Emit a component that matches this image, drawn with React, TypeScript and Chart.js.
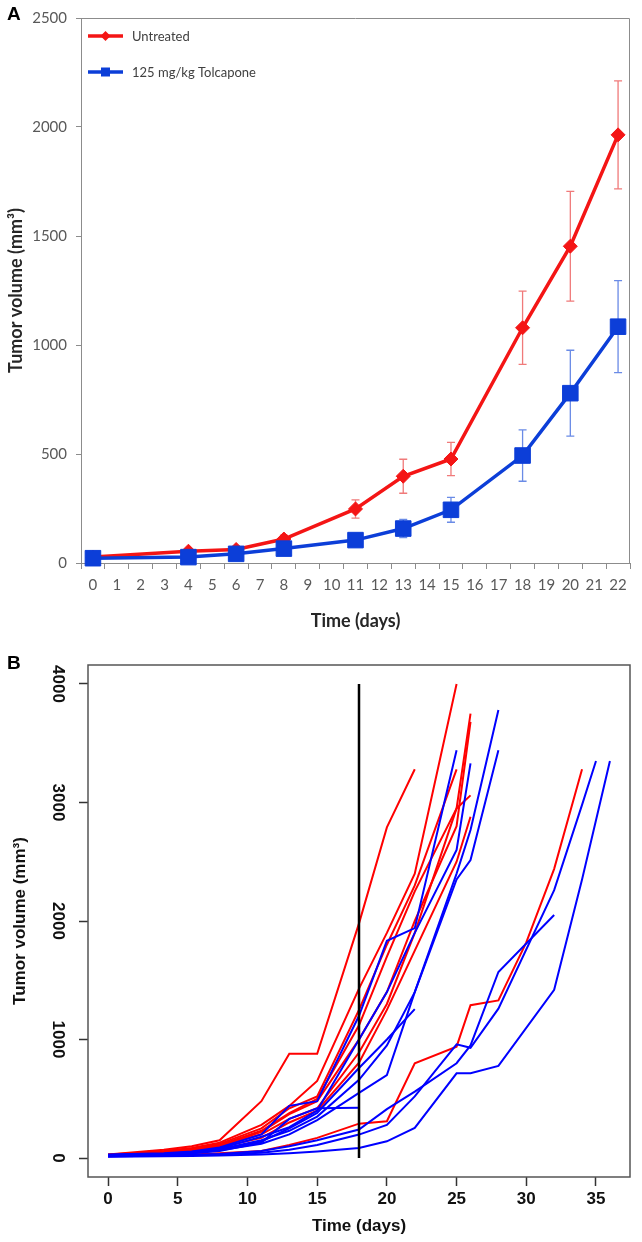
import React, { useEffect, useRef } from 'react';
import { Chart, registerables } from 'chart.js';

Chart.register(...registerables);

// ---------------- Panel A data ----------------
const dayLabelsA = ['0', '1', '2', '3', '4', '5', '6', '7', '8', '9', '10', '11', '12', '13', '14', '15', '16', '17', '18', '19', '20', '21', '22'];
const measuredDaysA = [0, 4, 6, 8, 11, 13, 15, 18, 20, 22];
const untreatedMean = [27, 54, 62, 110, 248, 398, 477, 1079, 1453, 1964];
const untreatedErr = [6, 12, 14, 18, 42, 78, 76, 168, 252, 248];
const tolcaponeMean = [22, 27, 42, 66, 105, 158, 244, 493, 779, 1084];
const tolcaponeErr = [5, 8, 10, 12, 18, 42, 57, 118, 197, 211];
const yTicksA = [0, 500, 1000, 1500, 2000, 2500];
const seriesNamesA = ['Untreated', '125 mg/kg Tolcapone'];

// ---------------- Panel B data ----------------
const xTicksB = [0, 5, 10, 15, 20, 25, 30, 35];
const yTicksB = [0, 1000, 2000, 3000, 4000];
const treatmentStartDay = 18;

const daysTo18 = [0, 4, 6, 8, 11, 13, 15, 18];
const daysTo22 = [0, 4, 6, 8, 11, 13, 15, 18, 20, 22];
const daysTo25 = [0, 4, 6, 8, 11, 13, 15, 18, 20, 22, 25];
const daysTo26 = [0, 4, 6, 8, 11, 13, 15, 18, 20, 22, 25, 26];
const daysTo28 = [0, 4, 6, 8, 11, 13, 15, 18, 20, 22, 25, 26, 28];
const daysTo32 = [0, 4, 6, 8, 11, 13, 15, 18, 20, 22, 25, 26, 28, 32];
const daysTo34 = [0, 4, 6, 8, 11, 13, 15, 18, 20, 22, 25, 26, 28, 30, 32, 34];
const daysTo35 = [0, 4, 6, 8, 11, 13, 15, 18, 20, 22, 25, 26, 28, 32, 34, 35];
const daysTo36 = [0, 4, 6, 8, 11, 13, 15, 18, 20, 22, 25, 26, 28, 32, 34, 36];

// untreated mice (red)
const untreated1 = [30, 70, 100, 150, 480, 880, 880, 1980, 2790, 3280];
const untreated2 = [25, 60, 85, 130, 280, 440, 650, 1430, 1900, 2400, 4000];
const untreated3 = [30, 55, 80, 120, 250, 420, 520, 1250, 1800, 2300, 3280];
const untreated4 = [20, 50, 75, 110, 230, 380, 500, 1120, 1700, 2250, 2950, 3750];
const untreated5 = [25, 50, 70, 100, 220, 370, 480, 1000, 1400, 2000, 2800, 3680];
const untreated6 = [20, 45, 65, 100, 200, 330, 420, 890, 1300, 1900, 2950, 3060];
const untreated7 = [20, 40, 60, 90, 170, 300, 400, 805, 1250, 1750, 2500, 2880];
const untreated8 = [15, 25, 30, 40, 60, 110, 170, 290, 310, 800, 940, 1290, 1330, 1820, 2440, 3280];

// tolcapone mice (blue)
const tolcapone1 = [30, 40, 55, 90, 200, 440, 480, 1200, 1833, 1940, 3441];
const tolcapone2 = [25, 35, 50, 80, 180, 260, 400, 1000, 1400, 1900, 2600, 3330];
const tolcapone3 = [25, 30, 45, 75, 150, 230, 350, 660, 950, 1400, 2400, 2768, 3780];
const tolcapone4 = [20, 30, 40, 65, 120, 200, 320, 550, 700, 1400, 2350, 2514, 3441];
const tolcapone5 = [25, 35, 45, 70, 140, 250, 380, 760, 1000, 1257];
const tolcapone6 = [20, 30, 40, 60, 130, 330, 420, 424];
const tolcapone7 = [15, 20, 25, 35, 60, 100, 150, 240, 413, 560, 800, 950, 1570, 2050];
const tolcapone8 = [15, 20, 25, 30, 45, 70, 110, 198, 280, 520, 960, 930, 1260, 2260, 2980, 3350];
const tolcapone9 = [10, 15, 18, 22, 30, 40, 55, 85, 141, 254, 715, 715, 777, 1420, 2350, 3350];

const untreatedMice: [number[], number[]][] = [
  [daysTo22, untreated1], [daysTo25, untreated2], [daysTo25, untreated3], [daysTo26, untreated4],
  [daysTo26, untreated5], [daysTo26, untreated6], [daysTo26, untreated7], [daysTo34, untreated8],
];
const tolcaponeMice: [number[], number[]][] = [
  [daysTo25, tolcapone1], [daysTo26, tolcapone2], [daysTo28, tolcapone3], [daysTo28, tolcapone4],
  [daysTo22, tolcapone5], [daysTo18, tolcapone6], [daysTo32, tolcapone7], [daysTo35, tolcapone8],
  [daysTo36, tolcapone9],
];

// ---------------- styles ----------------
const RED_A = '#f41515';
const BLUE_A = '#0c3ed8';
const RED_ERR = '#f07a7a';
const BLUE_ERR = '#6a8be6';
const GRAY_A = '#8c8c8c';
const TEXT_A = '#595959';
const FONT_A = 'Lato, "Open Sans", sans-serif';
const FONT_B = '"Liberation Sans", Arial, sans-serif';

const plain = (v: any) => String(v);

const frameA = {
  id: 'frameA',
  afterDraw(chart: any) {
    const { ctx, chartArea: c } = chart;
    ctx.save();
    ctx.strokeStyle = GRAY_A;
    ctx.lineWidth = 1;
    ctx.beginPath();
    ctx.moveTo(Math.round(c.left) + 0.5, Math.round(c.top) + 0.5);
    ctx.lineTo(Math.round(c.right) - 0.5, Math.round(c.top) + 0.5);
    ctx.lineTo(Math.round(c.right) - 0.5, Math.round(c.bottom) + 0.5);
    ctx.stroke();
    ctx.restore();
  },
};

const errorBars = {
  id: 'errorBars',
  beforeDatasetsDraw(chart: any) {
    const { ctx } = chart;
    const y = chart.scales.y;
    chart.data.datasets.forEach((ds: any, di: number) => {
      if (!ds.errors) return;
      const meta = chart.getDatasetMeta(di);
      meta.data.forEach((pt: any, i: number) => {
        const v = ds.data[i].y;
        const e = ds.errors[i];
        const top = y.getPixelForValue(v + e);
        const bot = y.getPixelForValue(v - e);
        ctx.save();
        ctx.strokeStyle = ds.errorColor;
        ctx.lineWidth = 1.3;
        ctx.beginPath();
        ctx.moveTo(pt.x, top);
        ctx.lineTo(pt.x, bot);
        ctx.moveTo(pt.x - 4, top);
        ctx.lineTo(pt.x + 4, top);
        ctx.moveTo(pt.x - 4, bot);
        ctx.lineTo(pt.x + 4, bot);
        ctx.stroke();
        ctx.restore();
      });
    });
  },
};

const legendA = {
  id: 'legendA',
  afterDatasetsDraw(chart: any) {
    const { ctx, chartArea: c } = chart;
    chart.data.datasets.forEach((ds: any, i: number) => {
      const y = c.top + 18 + i * 36;
      const x0 = c.left + 7;
      const x1 = c.left + 42;
      const xm = (x0 + x1) / 2;
      ctx.save();
      ctx.strokeStyle = ds.borderColor;
      ctx.lineWidth = 3.5;
      ctx.beginPath();
      ctx.moveTo(x0, y);
      ctx.lineTo(x1, y);
      ctx.stroke();
      ctx.fillStyle = ds.borderColor;
      ctx.beginPath();
      if (ds.pointStyle === 'rectRot') {
        ctx.moveTo(xm - 5, y);
        ctx.lineTo(xm, y - 5);
        ctx.lineTo(xm + 5, y);
        ctx.lineTo(xm, y + 5);
        ctx.closePath();
      } else {
        ctx.rect(xm - 4.5, y - 4.5, 9, 9);
      }
      ctx.fill();
      ctx.fillStyle = '#404040';
      ctx.font = `13px ${FONT_A}`;
      ctx.textBaseline = 'middle';
      ctx.textAlign = 'left';
      ctx.fillText(ds.label, c.left + 51, y + 1);
      ctx.restore();
    });
  },
};

const frameB = {
  id: 'frameB',
  afterDraw(chart: any) {
    const { ctx, chartArea: c } = chart;
    ctx.save();
    ctx.strokeStyle = '#555';
    ctx.lineWidth = 1.5;
    ctx.strokeRect(c.left, c.top, c.right - c.left, c.bottom - c.top);
    ctx.restore();
  },
};

function configA(): any {
  const mk = (means: number[]) => measuredDaysA.map((d, i) => ({ x: String(d), y: means[i] }));
  return {
    type: 'line',
    data: {
      labels: dayLabelsA,
      datasets: [
        {
          label: seriesNamesA[0],
          data: mk(untreatedMean),
          errors: untreatedErr,
          errorColor: RED_ERR,
          borderColor: RED_A,
          backgroundColor: RED_A,
          borderWidth: 3.5,
          pointStyle: 'rectRot',
          pointRadius: 7,
          pointBorderWidth: 1,
          spanGaps: true,
          tension: 0,
          clip: false,
          order: 1,
        },
        {
          label: seriesNamesA[1],
          data: mk(tolcaponeMean),
          errors: tolcaponeErr,
          errorColor: BLUE_ERR,
          borderColor: BLUE_A,
          backgroundColor: BLUE_A,
          borderWidth: 3.5,
          pointStyle: 'rect',
          pointRadius: 11,
          pointBorderWidth: 1,
          spanGaps: true,
          tension: 0,
          clip: false,
          order: 0,
        },
      ],
    },
    options: {
      animation: false,
      responsive: false,
      maintainAspectRatio: false,
      layout: { padding: { top: 8, right: 3, left: 0, bottom: 0 } },
      plugins: { legend: { display: false }, tooltip: { enabled: false } },
      scales: {
        x: {
          type: 'category',
          offset: true,
          grid: { offset: true, drawOnChartArea: false, drawTicks: true, tickLength: 6, color: GRAY_A },
          border: { display: true, color: GRAY_A },
          ticks: { color: TEXT_A, font: { family: FONT_A, size: 15 }, padding: 7, autoSkip: false, maxRotation: 0 },
          title: {
            display: true,
            text: 'Time (days)',
            color: '#262626',
            font: { family: FONT_A, size: 18, weight: 'bold' },
            padding: { top: 0, bottom: 8 },
          },
          afterFit: (s: any) => { s.height = 77; },
        },
        y: {
          type: 'linear',
          min: 0,
          max: 2500,
          afterBuildTicks: (s: any) => { s.ticks = yTicksA.map((v) => ({ value: v })); },
          grid: { drawOnChartArea: false, drawTicks: true, tickLength: 5, color: GRAY_A },
          border: { display: true, color: GRAY_A },
          ticks: { color: TEXT_A, font: { family: FONT_A, size: 15 }, padding: 9, callback: plain },
          title: {
            display: true,
            text: 'Tumor volume (mm³)',
            color: '#262626',
            font: { family: FONT_A, size: 18, weight: 'bold' },
            padding: { top: 5, bottom: 0 },
          },
          afterFit: (s: any) => { s.width = 81; },
        },
      },
    },
    plugins: [errorBars, frameA, legendA],
  };
}

function configB(): any {
  const datasets: any[] = [];
  datasets.push({
    label: 'Treatment start',
    data: [{ x: treatmentStartDay, y: 0 }, { x: treatmentStartDay, y: 4000 }],
    borderColor: '#000',
    borderWidth: 2.5,
    pointRadius: 0,
    order: 0,
  });
  tolcaponeMice.forEach(([days, vols]) => {
    datasets.push({
      label: 'Tolcapone',
      data: days.map((d, i) => ({ x: d, y: vols[i] })),
      borderColor: '#0000ff',
      borderWidth: 2,
      pointRadius: 0,
      tension: 0,
      order: 1,
    });
  });
  untreatedMice.forEach(([days, vols]) => {
    datasets.push({
      label: 'Untreated',
      data: days.map((d, i) => ({ x: d, y: vols[i] })),
      borderColor: '#ff0000',
      borderWidth: 2,
      pointRadius: 0,
      tension: 0,
      order: 2,
    });
  });
  const tickFont = { family: FONT_B, size: 17, weight: 'bold' };
  return {
    type: 'line',
    data: { datasets },
    options: {
      animation: false,
      responsive: false,
      maintainAspectRatio: false,
      layout: { padding: { top: 25, right: 12, left: 0, bottom: 0 } },
      plugins: { legend: { display: false }, tooltip: { enabled: false } },
      scales: {
        x: {
          type: 'linear',
          min: -1.44,
          max: 37.44,
          afterBuildTicks: (s: any) => { s.ticks = xTicksB.map((v) => ({ value: v })); },
          grid: { drawOnChartArea: false, drawTicks: true, tickLength: 9, tickWidth: 1.5, tickColor: '#333' },
          border: { display: false },
          ticks: { color: '#111', font: tickFont, padding: 3, maxRotation: 0, callback: plain },
          title: {
            display: true,
            text: 'Time (days)',
            color: '#111',
            font: tickFont,
            padding: { top: 0, bottom: 5 },
          },
          afterFit: (s: any) => { s.height = 65; },
        },
        y: {
          type: 'linear',
          min: -160,
          max: 4160,
          afterBuildTicks: (s: any) => { s.ticks = yTicksB.map((v) => ({ value: v })); },
          grid: { drawOnChartArea: false, drawTicks: true, tickLength: 9, tickWidth: 1.5, tickColor: '#333' },
          border: { display: false },
          ticks: { color: '#111', font: tickFont, padding: 2, minRotation: -90, maxRotation: -90, crossAlign: 'center', callback: plain },
          title: {
            display: true,
            text: 'Tumor volume (mm³)',
            color: '#111',
            font: tickFont,
            padding: { top: 10, bottom: 0 },
          },
          afterFit: (s: any) => { s.width = 88; },
        },
      },
    },
    plugins: [frameB],
  };
}

export default function App() {
  const refA = useRef<HTMLCanvasElement>(null);
  const refB = useRef<HTMLCanvasElement>(null);
  useEffect(() => {
    const a = new Chart(refA.current as HTMLCanvasElement, configA());
    const b = new Chart(refB.current as HTMLCanvasElement, configB());
    return () => {
      a.destroy();
      b.destroy();
    };
  }, []);
  const letter: React.CSSProperties = {
    position: 'absolute',
    left: 7,
    font: `bold 19px ${FONT_B}`,
    lineHeight: '19px',
    color: '#000',
  };
  return (
    <div style={{ position: 'absolute', left: 0, top: 0, width: 642, height: 1242, background: '#fff', overflow: 'hidden' }}>
      <canvas ref={refA} width={642} height={640} style={{ position: 'absolute', left: 0, top: 0, width: 642, height: 640 }} />
      <canvas ref={refB} width={642} height={602} style={{ position: 'absolute', left: 0, top: 640, width: 642, height: 602 }} />
      <div style={{ ...letter, top: 4 }}>A</div>
      <div style={{ ...letter, top: 653 }}>B</div>
    </div>
  );
}
